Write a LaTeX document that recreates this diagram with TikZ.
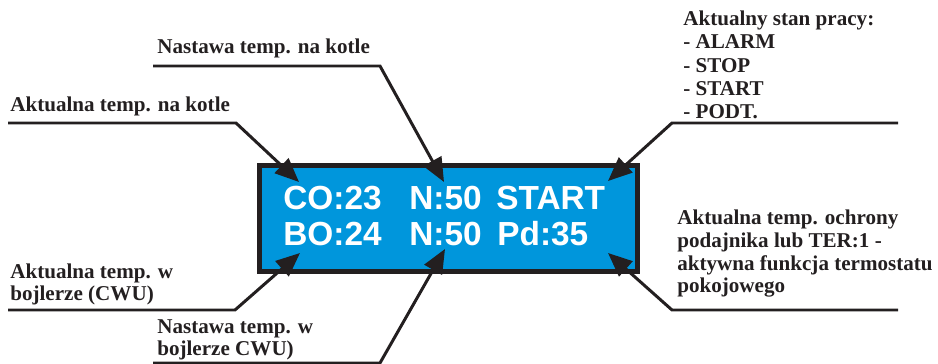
\documentclass[tikz,border=0pt]{standalone}
\usepackage{fontspec}
\setmainfont{Liberation Serif}
\newfontfamily\lcdfont{Liberation Sans}
\usetikzlibrary{arrows.meta, positioning}
\definecolor{lcdblue}{RGB}{0,150,220}
\definecolor{ink}{RGB}{35,31,32}

\begin{document}
\begin{tikzpicture}[
  x=0.02cm, y=-0.02cm,
  lbl/.style={anchor=base west, inner sep=0, align=left, text=ink, font=\bfseries\fontsize{12}{13}\selectfont},
  lcd/.style={draw=ink, line width=0.1cm, fill=lcdblue, rectangle, minimum width=7.56cm, minimum height=2.12cm, inner sep=0},
  lcdtxt/.style={anchor=base west, inner sep=0, text=white, font=\lcdfont\bfseries\fontsize{19}{20}\selectfont},
  pointer/.style={draw=ink, line width=1.7pt, -{Triangle[length=0.48cm, width=0.4cm]}}
]
\useasboundingbox (0,0) rectangle (938,364);

% Display
\node[lcd] (disp) at (448.5,218.5) {};
\node[lcdtxt] (co) at (283,210) {CO:23};
\node[lcdtxt] (nco) at (409,210) {N:50};
\node[lcdtxt] (stan) at (496,210) {START};
\node[lcdtxt] (bo) at (283,246) {BO:24};
\node[lcdtxt] (nbo) at (409,246) {N:50};
\node[lcdtxt] (pd) at (497,246) {Pd:35};

% Labels (base = last line)
\node[lbl] (akotle) at (10,112) {Aktualna temp. na kotle};
\node[lbl] (nkotle) at (157,54) {Nastawa temp. na kotle};
\node[lbl, font=\bfseries\fontsize{12}{13.3}\selectfont] (stanpr) at (683,119) {Aktualny stan pracy:\\- ALARM\\- STOP\\- START\\- PODT.};
\node[lbl] (abojl) at (10,301) {Aktualna temp. w\\bojlerze (CWU)};
\node[lbl] (nbojl) at (157,356) {Nastawa temp. w\\bojlerze CWU)};
\node[lbl] (ochr) at (677,293) {Aktualna temp. ochrony\\podajnika lub TER:1 -\\aktywna funkcja termostatu\\pokojowego};

% Leader lines
\coordinate (a1) at (8,123);   \coordinate (b1) at (236,123); \coordinate (t1) at (299,182);
\coordinate (a2) at (153,66);  \coordinate (b2) at (380,66);  \coordinate (t2) at (444,182);
\coordinate (a3) at (898,123); \coordinate (b3) at (672,123); \coordinate (t3) at (608,181);
\coordinate (a4) at (8,310);   \coordinate (b4) at (235,310); \coordinate (t4) at (300,253);
\coordinate (a5) at (153,363); \coordinate (b5) at (380,363); \coordinate (t5) at (445,249);
\coordinate (a6) at (898,310); \coordinate (b6) at (672,310); \coordinate (t6) at (608,253);

\draw[pointer] (a1) -- (b1) -- (t1);
\draw[pointer] (a2) -- (b2) -- (t2);
\draw[pointer] (a3) -- (b3) -- (t3);
\draw[pointer] (a4) -- (b4) -- (t4);
\draw[pointer] (a5) -- (b5) -- (t5);
\draw[pointer] (a6) -- (b6) -- (t6);

\end{tikzpicture}
\end{document}
